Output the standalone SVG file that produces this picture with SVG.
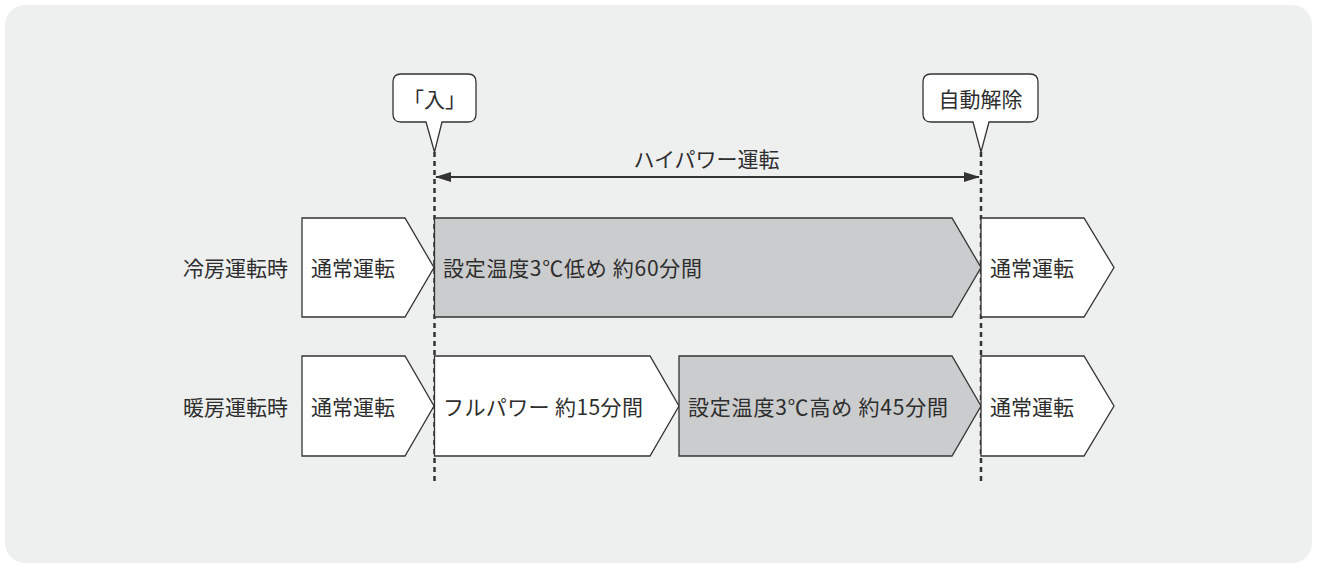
<svg xmlns="http://www.w3.org/2000/svg" width="1317" height="569" viewBox="0 0 1317 569">
<style>
.t{font-family:"Noto Sans CJK JP","Noto Sans",sans-serif;font-size:21px;fill:#2e2e2e;dominant-baseline:central}
.w{fill:#fff;stroke:#333;stroke-width:1.3}
.g{fill:#cbcccd;stroke:#333;stroke-width:1.3}
.dash{stroke:#333;stroke-width:2.5;stroke-dasharray:5 4;fill:none}
</style>
<defs>
<marker id="ah" viewBox="0 0 16 10" refX="15" refY="5" markerWidth="16" markerHeight="10" markerUnits="userSpaceOnUse" orient="auto-start-reverse">
<path d="M0,0 L16,5 L0,10 Z" fill="#333"/>
</marker>
</defs>
<rect x="5" y="5" width="1307" height="558" rx="20" fill="#eef0f0"/>
<g id="connectors">
<line class="dash" x1="434.5" y1="152" x2="434.5" y2="482"/>
<line class="dash" x1="981" y1="152" x2="981" y2="482"/>
<line x1="436" y1="177" x2="979" y2="177" stroke="#333" stroke-width="2" marker-start="url(#ah)" marker-end="url(#ah)"/>
<text class="t" x="706.5" y="158" text-anchor="middle">ハイパワー運転</text>
</g>
<g id="callout-start">
<path class="w" d="M401,74 H468 Q476,74 476,82 V114 Q476,122 468,122 H442 L434.5,152 L426,122 H401 Q393,122 393,114 V82 Q393,74 401,74 Z"/>
<text class="t" x="434.5" y="98" text-anchor="middle">「入」</text>
</g>
<g id="callout-end">
<path class="w" d="M931,74 H1030 Q1038,74 1038,82 V114 Q1038,122 1030,122 H989 L981,152 L973,122 H931 Q923,122 923,114 V82 Q923,74 931,74 Z"/>
<text class="t" x="980.5" y="98" text-anchor="middle">自動解除</text>
</g>
<g id="label-cool"><text class="t" x="288" y="267" text-anchor="end">冷房運転時</text></g>
<g id="label-heat"><text class="t" x="288" y="406" text-anchor="end">暖房運転時</text></g>
<g id="cool-normal1">
<path class="w" d="M302,218 H405 L434,267.5 L405,317 H302 Z"/>
<text class="t" x="311" y="267">通常運転</text>
</g>
<g id="cool-main">
<path class="g" d="M434.5,218 H952 L981,267.5 L952,317 H434.5 Z"/>
<text class="t" x="443" y="267" textLength="259" lengthAdjust="spacing">設定温度3℃低め 約60分間</text>
</g>
<g id="cool-normal2">
<path class="w" d="M981,218 H1084 L1114,267.5 L1084,317 H981 Z"/>
<text class="t" x="990" y="267">通常運転</text>
</g>
<g id="heat-normal1">
<path class="w" d="M302,356 H405 L434,406 L405,456 H302 Z"/>
<text class="t" x="311" y="406">通常運転</text>
</g>
<g id="heat-full">
<path class="w" d="M434.5,356 H650 L679,406 L650,456 H434.5 Z"/>
<text class="t" x="443" y="406" textLength="200" lengthAdjust="spacing">フルパワー 約15分間</text>
</g>
<g id="heat-main">
<path class="g" d="M679,356 H952 L981,406 L952,456 H679 Z"/>
<text class="t" x="688" y="406" textLength="260" lengthAdjust="spacing">設定温度3℃高め 約45分間</text>
</g>
<g id="heat-normal2">
<path class="w" d="M981,356 H1084 L1114,406 L1084,456 H981 Z"/>
<text class="t" x="990" y="406">通常運転</text>
</g>
</svg>
